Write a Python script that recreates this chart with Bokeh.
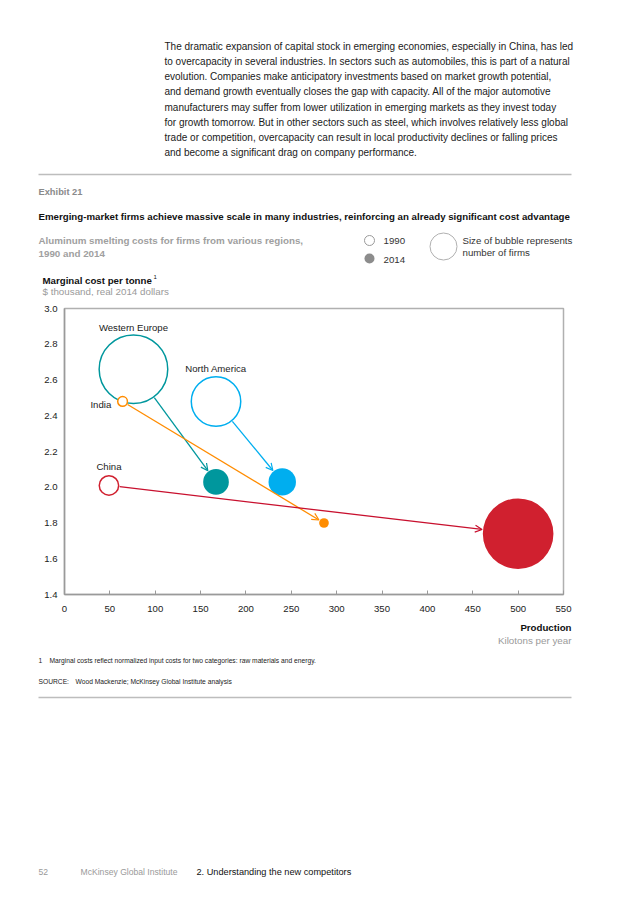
import math
from bokeh.plotting import figure
from bokeh.models import Range1d, FixedTicker, Arrow, OpenHead, NumeralTickFormatter
from bokeh.layouts import column
from bokeh.embed import file_html
from bokeh.resources import INLINE
from bokeh.core.properties import value

# ---------------- data ----------------
regions = ["Western Europe", "North America", "India", "China"]
prod_1990 = [76, 167, 64, 49]          # kilotons per year
cost_1990 = [2.66, 2.48, 2.48, 2.01]   # $ thousand per tonne
prod_2014 = [167, 240, 286, 500]
cost_2014 = [2.03, 2.03, 1.80, 1.74]
firms_1990 = [50, 26, 1, 4]            # number of firms (bubble area)
firms_2014 = [7, 8, 1, 53]
x_ticks = [0, 50, 100, 150, 200, 250, 300, 350, 400, 450, 500, 550]
y_ticks = [1.4, 1.6, 1.8, 2.0, 2.2, 2.4, 2.6, 2.8, 3.0]

paragraph = [
    "The dramatic expansion of capital stock in emerging economies, especially in China, has led",
    "to overcapacity in several industries. In sectors such as automobiles, this is part of a natural",
    "evolution. Companies make anticipatory investments based on market growth potential,",
    "and demand growth eventually closes the gap with capacity. All of the major automotive",
    "manufacturers may suffer from lower utilization in emerging markets as they invest today",
    "for growth tomorrow. But in other sectors such as steel, which involves relatively less global",
    "trade or competition, overcapacity can result in local productivity declines or falling prices",
    "and become a significant drag on company performance.",
]

# ---------------- styles ----------------
FONT = "Liberation Sans"
colors = ["#00979D", "#00AEEF", "#FF8C00", "#D0202F"]
line_colors = ["#00979D", "#00AEEF", "#FF8C00", "#C8102E"]
K = 4.85  # px radius per sqrt(firm)
W = 636
HA, HB = 296, 324
TOP_B = HA
TOP_C = HA + HB
HC = 898 - TOP_C


def canvas_fig(h):
    f = figure(width=W, height=h, x_range=Range1d(0, W), y_range=Range1d(h, 0),
               x_axis_type=None, y_axis_type=None, toolbar_location=None,
               output_backend="svg", min_border=0, frame_align=False)
    f.outline_line_color = None
    return f


def txt(f, x, y, s, size=9.6, color="#222222", bold=False, align="left", baseline="middle"):
    f.text(x=[x], y=[y], text=[s], text_font=value(FONT), text_font_size=f"{size}px",
           text_color=color, text_font_style="bold" if bold else "normal",
           text_align=align, text_baseline=baseline)


# ---------------- header (page coordinates) ----------------
fa = canvas_fig(HA)
for i, line in enumerate(paragraph):
    txt(fa, 164, 46 + 15.14 * i, line, size=10.0, color="#1a1a1a")
fa.line(x=[38, 571], y=[174, 174], line_color="#bdbdbd", line_width=1.5)
txt(fa, 38, 191, "Exhibit 21", size=9.3, color="#8a8a8a", bold=True)
txt(fa, 38, 216,
    "Emerging-market firms achieve massive scale in many industries, reinforcing an already significant cost advantage",
    size=9.7, color="#111111", bold=True)
txt(fa, 38, 240, "Aluminum smelting costs for firms from various regions,", size=9.8, color="#a0a0a0", bold=True)
txt(fa, 38, 253, "1990 and 2014", size=9.8, color="#a0a0a0", bold=True)
# legend
fa.scatter(x=[369], y=[240], size=10, fill_color="white", line_color="#9a9a9a", line_width=1)
fa.scatter(x=[369], y=[258], size=10, fill_color="#8c8c8c", line_color=None)
fa.scatter(x=[443], y=[246], size=27, fill_color="white", line_color="#b0b0b0", line_width=1)
txt(fa, 383, 240, "1990", size=9.7, color="#333333")
txt(fa, 383, 259, "2014", size=9.7, color="#333333")
txt(fa, 462, 240, "Size of bubble represents", size=9.7, color="#333333")
txt(fa, 462, 252, "number of firms", size=9.7, color="#333333")
txt(fa, 42, 280, "Marginal cost per tonne", size=9.7, color="#111111", bold=True)
txt(fa, 153, 276, "1", size=6, color="#111111")
txt(fa, 42, 291, "$ thousand, real 2014 dollars", size=9.8, color="#9a9a9a")

# ---------------- chart ----------------
fb = figure(width=W, height=HB, x_range=Range1d(0, 550), y_range=Range1d(1.4, 3.0),
            toolbar_location=None, output_backend="svg", frame_align=False,
            min_border_left=64, min_border_right=W - 563, min_border_top=12, min_border_bottom=26)
fb.outline_line_color = "#b0b0b0"
fb.outline_line_width = 1.5
fb.grid.grid_line_color = None
fb.xaxis.ticker = FixedTicker(ticks=x_ticks)
fb.yaxis.ticker = FixedTicker(ticks=y_ticks)
fb.yaxis.formatter = NumeralTickFormatter(format="0.0")
for ax in (fb.xaxis[0], fb.yaxis[0]):
    ax.axis_line_color = "#9a9a9a"
    ax.axis_line_width = 1.5
    ax.major_tick_line_color = "#9a9a9a"
    ax.minor_tick_line_color = None
    ax.major_label_text_font = FONT
    ax.major_label_text_font_size = "9.6px"
    ax.major_label_text_color = "#222222"
fb.xaxis.major_tick_in = 4
fb.xaxis.major_tick_out = 0
fb.xaxis.major_label_standoff = 11
fb.yaxis.major_tick_in = 0
fb.yaxis.major_tick_out = 0
fb.yaxis.major_label_standoff = 7

sx = 499 / 550
sy = 286 / 1.6
r90 = [K * math.sqrt(v) for v in firms_1990]
r14 = [K * math.sqrt(v) for v in firms_2014]

for i in range(len(regions)):
    dxp = (prod_2014[i] - prod_1990[i]) * sx
    dyp = (cost_2014[i] - cost_1990[i]) * sy
    L = math.hypot(dxp, dyp)
    ux, uy = dxp / L, dyp / L
    a = r90[i] + 1.0
    b = r14[i] + 1.0
    fb.add_layout(Arrow(
        end=OpenHead(size=7, line_color=line_colors[i], line_width=1.2),
        x_start=prod_1990[i] + ux * a / sx, y_start=cost_1990[i] + uy * a / sy,
        x_end=prod_2014[i] - ux * b / sx, y_end=cost_2014[i] - uy * b / sy,
        line_color=line_colors[i], line_width=1.3))

fb.scatter(x=prod_2014, y=cost_2014, size=[2 * r for r in r14], fill_color=colors, line_color=None)
fb.scatter(x=prod_1990, y=cost_1990, size=[2 * r for r in r90], fill_color="white",
           line_color=colors, line_width=1.5)

# region labels, placed relative to their 1990 bubbles
gaps = [6.5, 7.5, 0, 9]
for i, name in enumerate(regions):
    if name == "India":
        fb.text(x=[prod_1990[i]], y=[cost_1990[i]], text=[name], x_offset=-(r90[i] + 6.5), y_offset=3,
                text_font=value(FONT), text_font_size="9.6px", text_color="#222222",
                text_align="right", text_baseline="middle")
    else:
        fb.text(x=[prod_1990[i]], y=[cost_1990[i]], text=[name], x_offset=0,
                y_offset=-(r90[i] + 0.75 + gaps[i]),
                text_font=value(FONT), text_font_size="9.6px", text_color="#222222",
                text_align="center", text_baseline="middle")

# ---------------- footer (page coordinates, shifted) ----------------
fc = canvas_fig(HC)
txt(fc, 571, 627 - TOP_C, "Production", size=9.7, color="#111111", bold=True, align="right")
txt(fc, 571, 640 - TOP_C, "Kilotons per year", size=9.8, color="#9a9a9a", align="right")
txt(fc, 38, 660 - TOP_C, "1", size=6.7, color="#222222")
txt(fc, 49, 660 - TOP_C, "Marginal costs reflect normalized input costs for two categories: raw materials and energy.",
    size=6.7, color="#222222")
txt(fc, 38, 681 - TOP_C, "SOURCE:", size=6.7, color="#222222")
txt(fc, 75, 681 - TOP_C, "Wood Mackenzie; McKinsey Global Institute analysis", size=6.7, color="#222222")
fc.line(x=[38, 571], y=[697 - TOP_C, 697 - TOP_C], line_color="#bdbdbd", line_width=1.5)
txt(fc, 38, 871 - TOP_C, "52", size=8.6, color="#9a9a9a")
txt(fc, 80, 871 - TOP_C, "McKinsey Global Institute", size=8.6, color="#9a9a9a")
txt(fc, 196, 871 - TOP_C, "2. Understanding the new competitors", size=9.2, color="#111111")

layout = column(fa, fb, fc, spacing=0)
open("out.html", "w").write(file_html(layout, INLINE))
